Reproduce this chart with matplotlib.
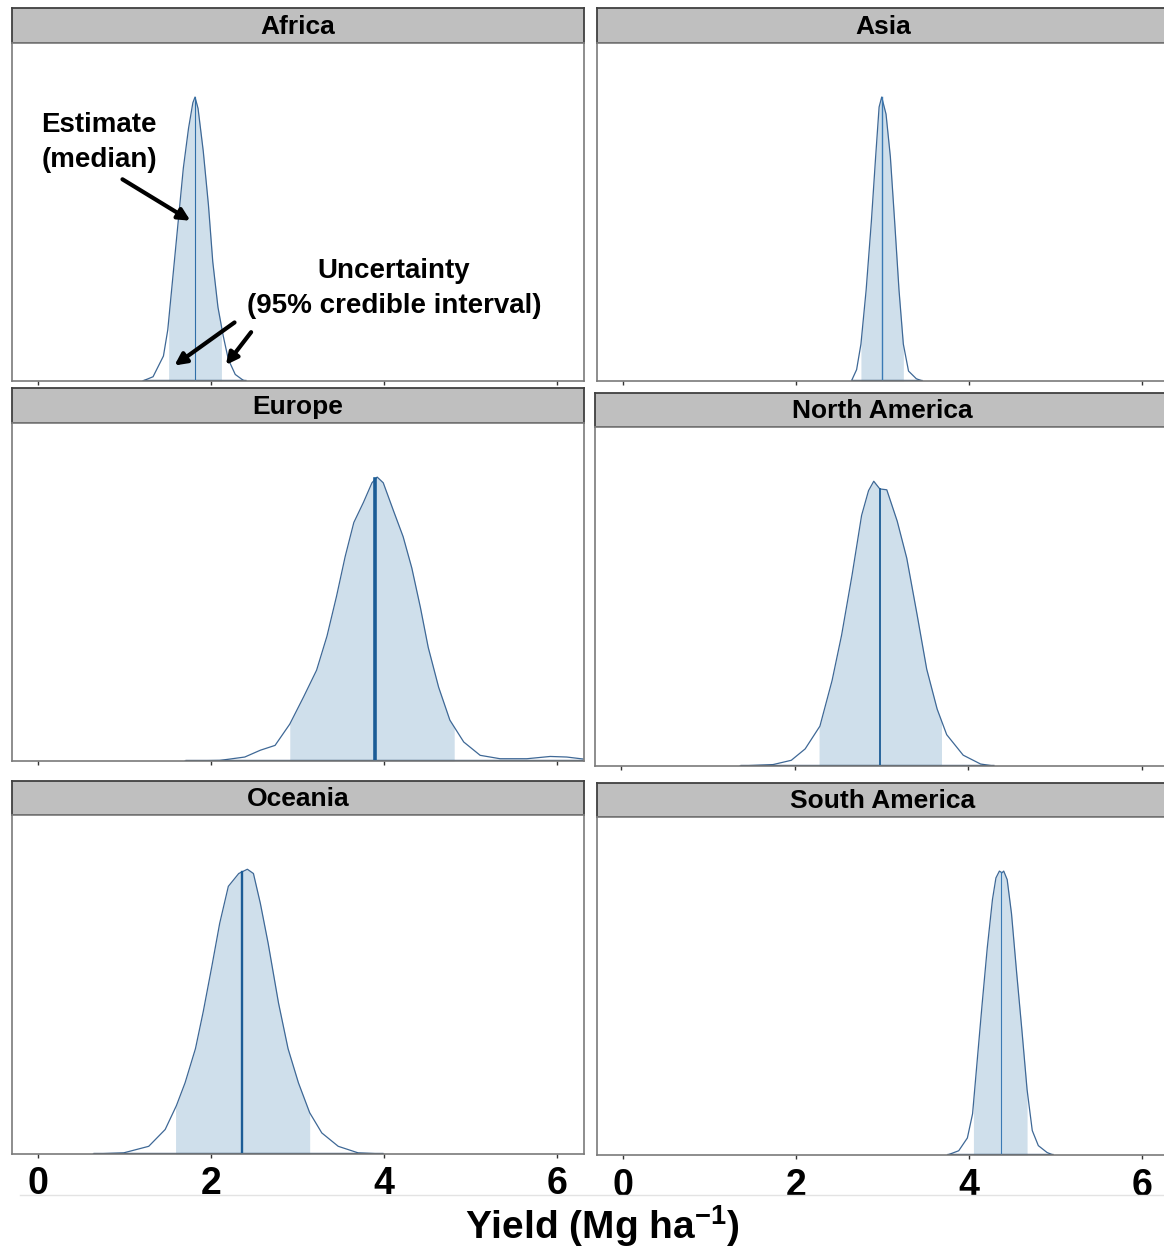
import numpy as np
import matplotlib
matplotlib.use('agg')
import matplotlib.pyplot as plt

plt.rcParams['font.family'] = ['Liberation Sans', 'DejaVu Sans']
plt.rcParams['mathtext.fontset'] = 'custom'
plt.rcParams['mathtext.rm'] = 'Liberation Sans'
plt.rcParams['mathtext.bf'] = 'Liberation Sans:bold'

# posterior densities (y relative to each panel's peak)
regions = ['Africa', 'Asia', 'Europe', 'North America', 'Oceania', 'South America']

africa_x = [1.21, 1.33, 1.45, 1.50, 1.56, 1.62, 1.68, 1.74, 1.79, 1.815, 1.85, 1.91,
            1.97, 2.02, 2.08, 2.14, 2.20, 2.28, 2.37, 2.40]
africa_y = [0.0, 0.015, 0.088, 0.18, 0.37, 0.56, 0.75, 0.89, 0.98, 1.0, 0.96, 0.81,
            0.62, 0.42, 0.26, 0.16, 0.076, 0.023, 0.003, 0.0]

asia_x = [2.64, 2.70, 2.75, 2.81, 2.87, 2.92, 2.96, 2.99, 3.04, 3.09, 3.14, 3.19,
          3.24, 3.30, 3.39, 3.46]
asia_y = [0.0, 0.04, 0.13, 0.32, 0.56, 0.79, 0.965, 1.0, 0.94, 0.79, 0.56, 0.32,
          0.13, 0.035, 0.008, 0.0]

europe_x = [1.70, 2.10, 2.39, 2.57, 2.74, 2.91, 3.07, 3.22, 3.34, 3.45, 3.55, 3.65,
            3.76, 3.86, 3.92, 3.99, 4.11, 4.22, 4.32, 4.42, 4.51, 4.63, 4.76, 4.92,
            5.11, 5.34, 5.65, 5.92, 6.11, 6.30]
europe_y = [0.0, 0.002, 0.014, 0.038, 0.055, 0.13, 0.226, 0.32, 0.44, 0.58, 0.72, 0.84,
            0.91, 0.98, 1.0, 0.98, 0.88, 0.79, 0.68, 0.54, 0.40, 0.26, 0.144, 0.067,
            0.02, 0.008, 0.008, 0.016, 0.014, 0.007]

namerica_x = [1.37, 1.75, 1.96, 2.12, 2.29, 2.43, 2.54, 2.66, 2.77, 2.85, 2.91, 2.98,
              3.06, 3.18, 3.29, 3.41, 3.52, 3.64, 3.75, 3.94, 4.14, 4.29]
namerica_y = [0.0, 0.005, 0.02, 0.06, 0.14, 0.30, 0.46, 0.67, 0.88, 0.967, 1.0, 0.973,
              0.97, 0.86, 0.73, 0.53, 0.34, 0.20, 0.11, 0.038, 0.007, 0.0]

oceania_x = [0.64, 0.99, 1.28, 1.47, 1.60, 1.70, 1.82, 1.91, 2.01, 2.10, 2.20, 2.32,
             2.42, 2.49, 2.57, 2.66, 2.78, 2.89, 3.01, 3.14, 3.28, 3.47, 3.70, 3.99]
oceania_y = [0.0, 0.004, 0.027, 0.086, 0.17, 0.25, 0.37, 0.50, 0.66, 0.81, 0.94, 0.985,
             1.0, 0.985, 0.88, 0.74, 0.53, 0.37, 0.25, 0.145, 0.074, 0.027, 0.004, 0.0]

samerica_x = [3.75, 3.88, 3.98, 4.04, 4.09, 4.15, 4.21, 4.27, 4.31, 4.35, 4.38, 4.40,
              4.44, 4.49, 4.55, 4.61, 4.67, 4.73, 4.80, 4.90, 4.97]
samerica_y = [0.0, 0.015, 0.06, 0.145, 0.32, 0.53, 0.73, 0.90, 0.976, 1.0, 0.994, 1.0,
              0.97, 0.85, 0.64, 0.44, 0.23, 0.086, 0.033, 0.009, 0.0]

medians = [1.815, 2.99, 3.90, 2.98, 2.36, 4.37]
ci_low = [1.51, 2.75, 2.91, 2.28, 1.59, 4.05]
ci_high = [2.12, 3.24, 4.81, 3.69, 3.14, 4.67]

xticks = [0, 2, 4, 6]

curves_x = [africa_x, asia_x, europe_x, namerica_x, oceania_x, samerica_x]
curves_y = [africa_y, asia_y, europe_y, namerica_y, oceania_y, samerica_y]

# layout in pixels: (left, top, right, bottom) for strip and panel
W, H = 1164, 1250
strips = [(12, 8, 584, 43), (597, 8, 1169, 43),
          (12, 388, 584, 423), (595, 393, 1169, 427),
          (12, 781, 584, 815), (597, 783, 1169, 817)]
panels = [(12, 43, 584, 381), (597, 43, 1169, 381),
          (12, 423, 584, 761), (595, 427, 1169, 766),
          (12, 815, 584, 1154), (597, 817, 1169, 1155)]
median_lw = [0.8, 1.0, 2.6, 1.3, 1.7, 0.8]
median_cols = ['#2f6fa8', '#3a7ab5', '#1b5c96', '#1b5c96', '#1b5c96', '#3a7ab5']

fill_col = '#cfdfeb'
edge_col = '#3e6896'


def box(l, t, r, b):
    return [l / W, 1 - b / H, (r - l) / W, (b - t) / H]


fig = plt.figure(figsize=(W / 100, H / 100), dpi=100)

axes = []
for i, name in enumerate(regions):
    sax = fig.add_axes(box(*strips[i]))
    sax.set_facecolor('#bfbfbf')
    sax.set_xticks([])
    sax.set_yticks([])
    for sp in sax.spines.values():
        sp.set_color('#404040')
        sp.set_linewidth(1.3)
    sax.text(0.5, 0.47, name, ha='center', va='center', fontsize=19,
             fontweight='bold', transform=sax.transAxes)

    ax = fig.add_axes(box(*panels[i]))
    x = np.array(curves_x[i])
    y = np.array(curves_y[i])
    lo, hi, med = ci_low[i], ci_high[i], medians[i]
    inside = (x > lo) & (x < hi)
    px = np.concatenate([[lo], x[inside], [hi]])
    py = np.concatenate([[np.interp(lo, x, y)], y[inside], [np.interp(hi, x, y)]])
    ax.fill_between(px, 0, py, color=fill_col, lw=0)
    ax.plot(x, y, color=edge_col, lw=0.9)
    ax.plot([x[0], x[-1]], [0, 0], color='#1f3f66', lw=2.4, solid_capstyle='butt')
    ax.plot([med, med], [0, np.interp(med, x, y)], color=median_cols[i], lw=median_lw[i])

    ax.set_xlim(-0.30, 6.31)
    ax.set_ylim(0, 1 / 0.84)
    ax.set_yticks([])
    ax.set_xticks(xticks)
    ax.tick_params(axis='x', length=3, width=1, color='#333333', direction='out')
    for sp in ax.spines.values():
        sp.set_color('#7a7a7a')
        sp.set_linewidth(1.2)
    if i >= 4:
        ax.set_xticklabels([str(t) for t in xticks], fontsize=27, fontweight='bold')
        ax.tick_params(axis='x', pad=6)
    else:
        ax.set_xticklabels([])
    axes.append(ax)

# annotations in the Africa panel
ax0 = axes[0]
ax0.text(0.051, 0.707, 'Estimate\n(median)', transform=ax0.transAxes, ha='left',
         va='center', fontsize=20, fontweight='bold', linespacing=1.45)
ax0.text(0.668, 0.275, 'Uncertainty\n(95% credible interval)', transform=ax0.transAxes,
         ha='center', va='center', fontsize=20, fontweight='bold', linespacing=1.45)
arrow = dict(arrowstyle='-|>,head_length=0.7,head_width=0.35', color='black', lw=3)
ax0.annotate('', xy=(0.316, 0.470), xytext=(0.189, 0.601), xycoords='axes fraction',
             arrowprops=arrow)
ax0.annotate('', xy=(0.280, 0.041), xytext=(0.393, 0.178), xycoords='axes fraction',
             arrowprops=arrow)
ax0.annotate('', xy=(0.371, 0.041), xytext=(0.421, 0.151), xycoords='axes fraction',
             arrowprops=arrow)

# faint separator under the tick labels
fig.add_artist(plt.Line2D([20 / W, 1.0], [1 - 1195 / H, 1 - 1195 / H], color='#e3e3e3', lw=1))

fig.text(602 / W, 1 - 1226 / H, r'Yield (Mg ha$^{\mathbf{-1}}$)', ha='center', va='center',
         fontsize=28, fontweight='bold')

fig.savefig('out.png', dpi=100)
